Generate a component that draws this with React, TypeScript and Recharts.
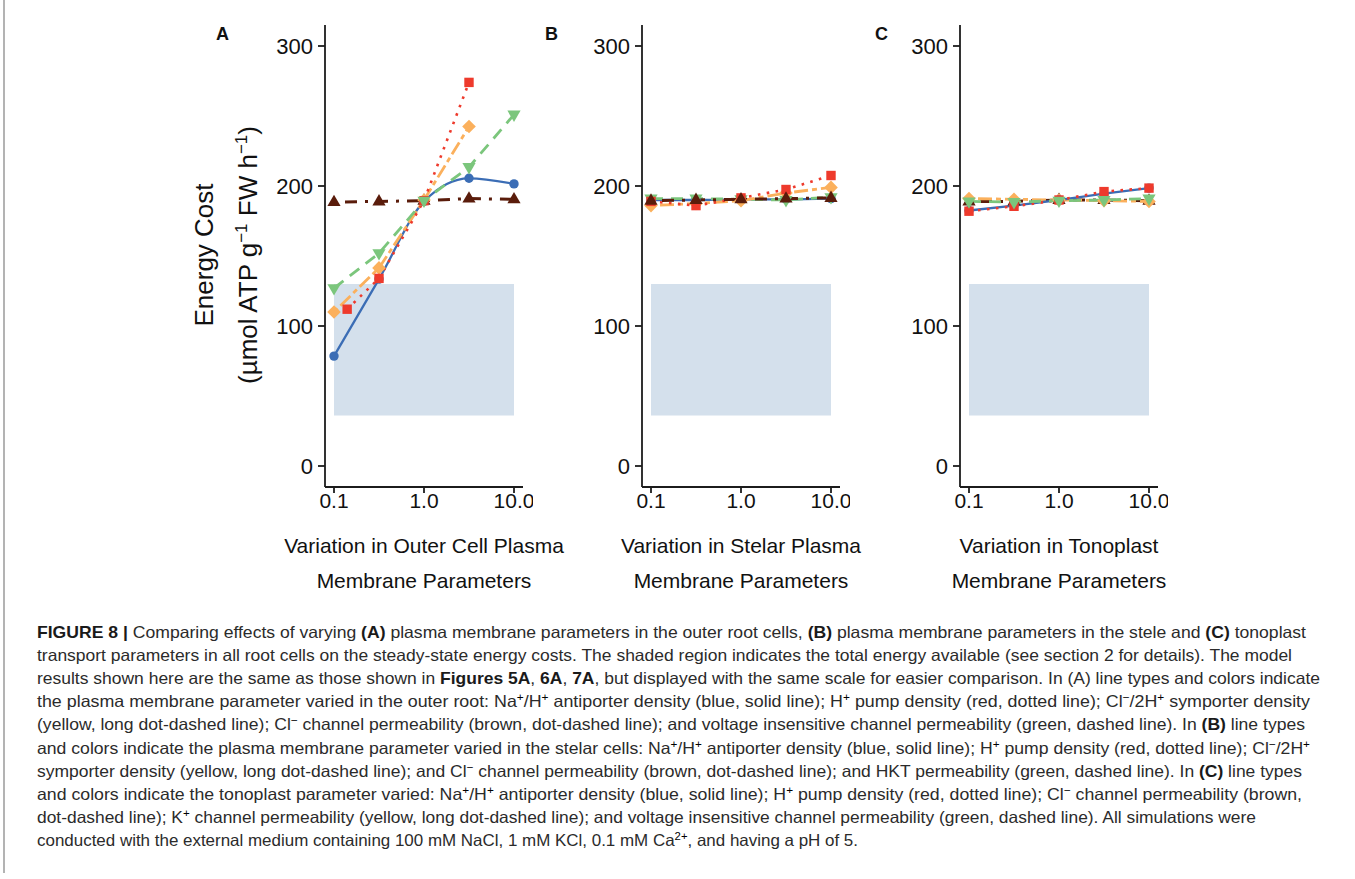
import React from 'react';
import { LineChart, Line, XAxis, YAxis, ReferenceArea } from 'recharts';

// ---------- data ----------
const X_STEPS = [0.1, 0.3162, 1, 3.162, 10];
const X_RED_A = [0.14, 0.3162, 1, 3.162];
const X_ORANGE_A = [0.1, 0.3162, 1, 3.162];
const X_TICKS = [0.1, 1, 10];
const X_TICK_LABELS = ['0.1', '1.0', '10.0'];
const Y_TICKS = [0, 100, 200, 300];

// Panel A: outer cell plasma membrane
const A_BLUE = [78.5, 133.5, 189, 205.5, 201.5];
const A_RED = [112, 134, 189.5, 274];
const A_ORANGE = [110, 141.5, 190, 242.5];
const A_GREEN = [127, 152, 189.5, 213.5, 251];
const A_BROWN = [188.5, 189, 189.5, 191, 190.5];

// Panel B: stelar plasma membrane
const B_BLUE = [190, 190, 190.5, 190.5, 191];
const B_RED = [189, 186, 191.5, 197.5, 207.5];
const B_ORANGE = [186, 187.5, 189.5, 195, 199];
const B_GREEN = [191, 191, 190.5, 190, 192];
const B_BROWN = [189.5, 190, 190.5, 191, 191.5];

// Panel C: tonoplast
const C_BLUE = [182.5, 186, 190, 194.5, 198.5];
const C_RED = [182, 185.5, 190, 196, 198.5];
const C_ORANGE = [191, 190.5, 190, 189.5, 189];
const C_GREEN = [189, 188.5, 189.5, 190, 191];
const C_BROWN = [189, 189, 190, 190, 189.5];

// shaded region: total energy available
const SHADE_X = [0.1, 10];
const SHADE_Y = [36, 130];

const X_TITLES = [
  ['Variation in Outer Cell Plasma', 'Membrane Parameters'],
  ['Variation in Stelar Plasma', 'Membrane Parameters'],
  ['Variation in Tonoplast', 'Membrane Parameters'],
];
const PANEL_LETTERS = ['A', 'B', 'C'];

// ---------- styles ----------
const COLORS = {
  blue: '#3b6db5',
  red: '#ee3a2c',
  orange: '#fbb05c',
  green: '#7bc67c',
  brown: '#5a1c0b',
};
const FONT = '"Liberation Sans", Arial, Helvetica, sans-serif';
const X_DOMAIN = [Math.pow(10, -1.1), Math.pow(10, 1.1)];
const Y_DOMAIN = [-15, 315];

const zip = (xs, ys) => ys.map((y, i) => ({ x: xs[i], y }));

type Shape = 'circle' | 'square' | 'diamond' | 'up' | 'down';

const makeDot = (shape: Shape, color: string, id: string) => (props: any) => {
  const { cx, cy, index } = props;
  const key = `${id}-${index}`;
  if (cx == null || cy == null || isNaN(cx) || isNaN(cy)) return <g key={key} />;
  switch (shape) {
    case 'circle':
      return <circle key={key} cx={cx} cy={cy} r={4.7} fill={color} />;
    case 'square':
      return <rect key={key} x={cx - 4.7} y={cy - 4.7} width={9.4} height={9.4} fill={color} />;
    case 'diamond':
      return (
        <polygon key={key} points={`${cx},${cy - 6.8} ${cx + 6.8},${cy} ${cx},${cy + 6.8} ${cx - 6.8},${cy}`} fill={color} />
      );
    case 'up':
      return (
        <polygon key={key} points={`${cx},${cy - 7.4} ${cx + 6.6},${cy + 4} ${cx - 6.6},${cy + 4}`} fill={color} />
      );
    default:
      return (
        <polygon key={key} points={`${cx},${cy + 7.4} ${cx + 6.6},${cy - 4} ${cx - 6.6},${cy - 4}`} fill={color} />
      );
  }
};

const STYLE = {
  blue: { shape: 'circle' as Shape, width: 2.3, dash: undefined, type: 'monotone' },
  red: { shape: 'square' as Shape, width: 2.6, dash: '2.6 6.4', type: 'linear' },
  orange: { shape: 'diamond' as Shape, width: 2.8, dash: '5 4 14 4', type: 'linear' },
  green: { shape: 'down' as Shape, width: 2.8, dash: '12 8', type: 'linear' },
  brown: { shape: 'up' as Shape, width: 3, dash: '3 8 12 8', type: 'linear' },
};

type Series = { name: keyof typeof COLORS; data: { x: number; y: number }[] };

const PANEL_A: Series[] = [
  { name: 'brown', data: zip(X_STEPS, A_BROWN) },
  { name: 'blue', data: zip(X_STEPS, A_BLUE) },
  { name: 'orange', data: zip(X_ORANGE_A, A_ORANGE) },
  { name: 'red', data: zip(X_RED_A, A_RED) },
  { name: 'green', data: zip(X_STEPS, A_GREEN) },
];
const PANEL_B: Series[] = [
  { name: 'blue', data: zip(X_STEPS, B_BLUE) },
  { name: 'green', data: zip(X_STEPS, B_GREEN) },
  { name: 'orange', data: zip(X_STEPS, B_ORANGE) },
  { name: 'red', data: zip(X_STEPS, B_RED) },
  { name: 'brown', data: zip(X_STEPS, B_BROWN) },
];
const PANEL_C: Series[] = [
  { name: 'brown', data: zip(X_STEPS, C_BROWN) },
  { name: 'orange', data: zip(X_STEPS, C_ORANGE) },
  { name: 'blue', data: zip(X_STEPS, C_BLUE) },
  { name: 'red', data: zip(X_STEPS, C_RED) },
  { name: 'green', data: zip(X_STEPS, C_GREEN) },
];

const PLOT_LEFTS = [325, 642, 960];
const Y_AXIS_W = 62;
const PLOT_W = 198;
const AXIS_STROKE = { stroke: '#1c1c1c', strokeWidth: 1.8 };

function Panel({ plotLeft, series, id }: { plotLeft: number; series: Series[]; id: string }) {
  return (
    <div style={{ position: 'absolute', left: plotLeft - Y_AXIS_W, top: 0 }}>
      <LineChart width={Y_AXIS_W + PLOT_W + 10} height={530} margin={{ top: 25, right: 10, bottom: 0, left: 0 }}>
        <XAxis
          dataKey="x"
          type="number"
          scale="log"
          domain={X_DOMAIN}
          allowDataOverflow
          ticks={X_TICKS}
          interval={0}
          tickFormatter={(v) => X_TICK_LABELS[X_TICKS.indexOf(v)] ?? String(v)}
          height={43}
          tickSize={6}
          tickMargin={0}
          axisLine={AXIS_STROKE}
          tickLine={AXIS_STROKE}
          tick={{ fontSize: 21, fill: '#111', fontFamily: FONT }}
        />
        <YAxis
          type="number"
          domain={Y_DOMAIN}
          allowDataOverflow
          ticks={Y_TICKS}
          interval={0}
          width={Y_AXIS_W}
          tickSize={7}
          tickMargin={5}
          axisLine={AXIS_STROKE}
          tickLine={AXIS_STROKE}
          tick={{ fontSize: 22, fill: '#111', fontFamily: FONT }}
        />
        <ReferenceArea
          x1={SHADE_X[0]}
          x2={SHADE_X[1]}
          y1={SHADE_Y[0]}
          y2={SHADE_Y[1]}
          fill="#d4e0ec"
          fillOpacity={1}
          stroke="none"
        />
        {series.map((s) => {
          const st = STYLE[s.name];
          const c = COLORS[s.name];
          return (
            <Line
              key={`${id}-${s.name}`}
              data={s.data}
              dataKey="y"
              type={st.type as any}
              stroke={c}
              strokeWidth={st.width}
              strokeDasharray={st.dash}
              dot={makeDot(st.shape, c, `${id}-${s.name}`)}
              activeDot={false}
              isAnimationActive={false}
              legendType="none"
            />
          );
        })}
      </LineChart>
    </div>
  );
}

// ---------- caption ----------
type Seg = { t: string; b?: boolean; s?: boolean };
const T = (t: string): Seg => ({ t });
const B = (t: string): Seg => ({ t, b: true });
const S = (t: string): Seg => ({ t, s: true });

const CAPTION: Seg[][] = [
  [B('FIGURE 8 | '), T('Comparing effects of varying '), B('(A)'), T(' plasma membrane parameters in the outer root cells, '), B('(B)'), T(' plasma membrane parameters in the stele and '), B('(C)'), T(' tonoplast')],
  [T('transport parameters in all root cells on the steady-state energy costs. The shaded region indicates the total energy available (see section 2 for details). The model')],
  [T('results shown here are the same as those shown in '), B('Figures 5A'), T(', '), B('6A'), T(', '), B('7A'), T(', but displayed with the same scale for easier comparison. In (A) line types and colors indicate')],
  [T('the plasma membrane parameter varied in the outer root: Na'), S('+'), T('/H'), S('+'), T(' antiporter density (blue, solid line); H'), S('+'), T(' pump density (red, dotted line); Cl'), S('−'), T('/2H'), S('+'), T(' symporter density')],
  [T('(yellow, long dot-dashed line); Cl'), S('−'), T(' channel permeability (brown, dot-dashed line); and voltage insensitive channel permeability (green, dashed line). In '), B('(B)'), T(' line types')],
  [T('and colors indicate the plasma membrane parameter varied in the stelar cells: Na'), S('+'), T('/H'), S('+'), T(' antiporter density (blue, solid line); H'), S('+'), T(' pump density (red, dotted line); Cl'), S('−'), T('/2H'), S('+')],
  [T('symporter density (yellow, long dot-dashed line); and Cl'), S('−'), T(' channel permeability (brown, dot-dashed line); and HKT permeability (green, dashed line). In '), B('(C)'), T(' line types')],
  [T('and colors indicate the tonoplast parameter varied: Na'), S('+'), T('/H'), S('+'), T(' antiporter density (blue, solid line); H'), S('+'), T(' pump density (red, dotted line); Cl'), S('−'), T(' channel permeability (brown,')],
  [T('dot-dashed line); K'), S('+'), T(' channel permeability (yellow, long dot-dashed line); and voltage insensitive channel permeability (green, dashed line). All simulations were')],
  [T('conducted with the external medium containing 100 mM NaCl, 1 mM KCl, 0.1 mM Ca'), S('2+'), T(', and having a pH of 5.')],
];
const CAPTION_RIGHT = [1306, 1292, 1320, 1310, 1305, 1310, 1302, 1302, 1256, 858];
const CAPTION_LEFT = 37;
const CAPTION_TOP = 638;
const CAPTION_STEP = 23.1;

function CaptionLine({ segs, x, y, width }: { segs: Seg[]; x: number; y: number; width: number }) {
  let up = false;
  const kids = segs.map((s, i) => {
    if (s.s) {
      const dy = up ? 0 : -6;
      up = true;
      return (
        <tspan key={i} dy={dy} fontSize={11}>
          {s.t}
        </tspan>
      );
    }
    const dy = up ? 6 : 0;
    up = false;
    return (
      <tspan key={i} dy={dy} fontWeight={s.b ? 700 : 400} fill={s.b ? '#1a1a1a' : '#2b2b2b'}>
        {s.t}
      </tspan>
    );
  });
  return (
    <text
      x={x}
      y={y}
      textLength={width}
      lengthAdjust="spacingAndGlyphs"
      fontSize={16.5}
      fontFamily={FONT}
      style={{ whiteSpace: 'pre' }}
    >
      {kids}
    </text>
  );
}

export default function App() {
  const panels = [PANEL_A, PANEL_B, PANEL_C];
  return (
    <div
      style={{
        position: 'absolute',
        left: 0,
        top: 0,
        width: 1355,
        height: 879,
        background: '#fff',
        overflow: 'hidden',
        fontFamily: FONT,
      }}
    >
      {panels.map((p, i) => (
        <Panel key={i} plotLeft={PLOT_LEFTS[i]} series={p} id={`p${i}`} />
      ))}
      <svg width={1355} height={879} style={{ position: 'absolute', left: 0, top: 0, pointerEvents: 'none' }}>
        <line x1={4} y1={0} x2={4} y2={873} stroke="#9a9a9a" strokeWidth={1.5} />
        {/* y axis title */}
        <text transform="translate(213,255) rotate(-90)" textAnchor="middle" fontSize={26} fontFamily={FONT} fill="#111">
          Energy Cost
        </text>
        <text transform="translate(257,255) rotate(-90)" textAnchor="middle" fontSize={26} fontFamily={FONT} fill="#111">
          <tspan>(µmol ATP g</tspan>
          <tspan dy={-10} fontSize={17}>−1</tspan>
          <tspan dy={10}> FW h</tspan>
          <tspan dy={-10} fontSize={17}>−1</tspan>
          <tspan dy={10}>)</tspan>
        </text>
        {/* panel letters */}
        {PANEL_LETTERS.map((l, i) => (
          <text key={l} x={[216, 545, 875][i]} y={40} fontSize={18} fontWeight={700} fontFamily={FONT} fill="#111">
            {l}
          </text>
        ))}
        {/* x axis titles */}
        {X_TITLES.map((lines, i) => {
          const cx = PLOT_LEFTS[i] + PLOT_W / 2;
          return (
            <g key={i}>
              <text x={cx} y={553} textAnchor="middle" fontSize={21} fontFamily={FONT} fill="#111">
                {lines[0]}
              </text>
              <text x={cx} y={588} textAnchor="middle" fontSize={21} fontFamily={FONT} fill="#111">
                {lines[1]}
              </text>
            </g>
          );
        })}
        {/* caption */}
        {CAPTION.map((segs, i) => (
          <CaptionLine
            key={i}
            segs={segs}
            x={CAPTION_LEFT}
            y={CAPTION_TOP + i * CAPTION_STEP}
            width={CAPTION_RIGHT[i] - CAPTION_LEFT}
          />
        ))}
      </svg>
    </div>
  );
}
